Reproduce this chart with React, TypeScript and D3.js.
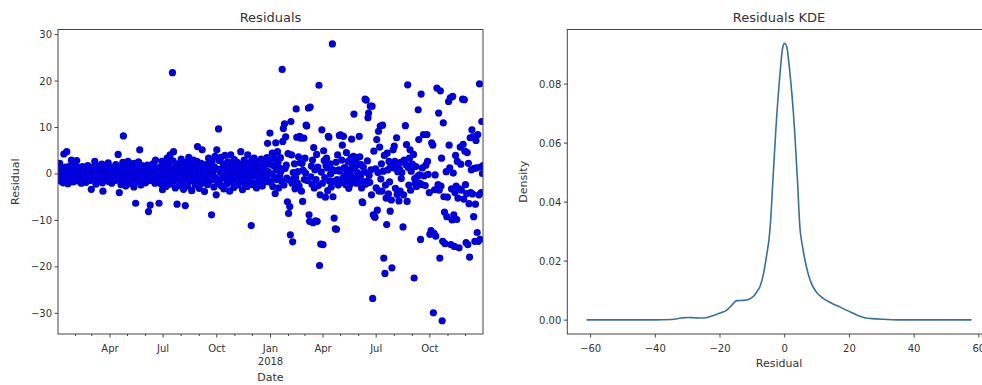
import React from "react";
import * as d3 from "d3";

// [day offset from 2017-01-01, residual]
const residualPoints: [number, number][] = [
  [1,1.2],[1,-0.5],[2,0.8],[3,-1.3],[4,2.3],[5,0.2],[6,-1.6],[7,1.1],[8,-0.3],[9,0.6],[10,-1.9],[11,4.3],[12,0.4],[13,-0.9],[14,1.5],[15,-1.4],[16,4.8],[17,0.3],[18,-2.1],[19,0.9],[20,-0.6],[21,1.7],[22,-1.2],[23,0.1],[24,3.0],[25,-0.8],[26,1.3],[27,-1.7],[28,0.5],[29,-0.2],[30,1.9],[31,-1.1],[33,2.9],[34,0.7],[35,-1.5],[36,0.2],[37,1.4],[38,-0.7],[40,0.9],[41,-2.0],[42,0.3],[43,1.6],[44,-1.0],[46,0.6],[47,-0.4],[48,1.1],[49,-1.8],[51,0.4],[52,1.8],[53,-0.9],[55,0.1],[56,-1.4],[57,1.2],[58,-3.3],[59,0.5],[60,-0.6],[62,1.5],[63,-1.2],[64,2.7],[65,0.3],[66,-2.2],[68,0.8],[69,-0.5],[70,1.7],[71,-1.5],[73,0.2],[74,1.3],[75,-0.8],[76,2.1],[77,-1.9],[78,-3.7],[79,0.6],[80,-0.2],[82,1.0],[83,-1.3],[84,0.4],[85,1.9],[86,-0.7],[87,2.4],[88,-1.6],[89,0.9],[90,-0.1],[92,1.4],[93,-2.0],[94,0.6],[95,-0.9],[97,1.2],[98,0.1],[99,-1.4],[100,2.0],[101,-0.4],[102,0.8],[104,4.2],[105,-1.1],[106,-4.0],[107,0.5],[108,1.6],[109,-2.3],[110,0.9],
  [111,-0.6],[112,2.5],[113,8.2],[114,-1.8],[115,1.2],[116,0.3],[117,-2.6],[118,1.9],[119,-0.8],[120,0.6],[121,2.7],[122,-1.4],[123,0.2],[124,1.5],[125,-2.1],[126,0.9],[127,-0.3],[128,2.2],[129,-1.2],[130,0.7],[131,-2.8],[132,2.3],[133,1.0],[134,-6.3],[135,-0.5],[136,1.7],[137,-1.6],[138,0.4],[139,2.6],[140,-0.9],[141,5.2],[142,1.3],[143,-2.4],[144,0.1],[145,1.8],[146,-1.0],[148,1.6],[149,-0.4],[150,0.8],[151,-1.9],[152,1.1],[154,1.9],[155,-0.6],[156,-8.1],[157,0.4],[158,-1.4],[159,-6.7],[160,1.0],[161,-0.2],[162,2.0],[163,-1.1],[165,2.3],[166,0.5],[167,-2.0],[168,3.0],[169,-0.7],[170,1.2],[171,-1.6],[172,0.3],[174,-6.3],[175,1.4],[176,-0.9],[177,0.6],[178,-2.2],[179,2.7],[180,-3.4],
  [181,1.0],[182,-0.4],[183,2.1],[184,-1.8],[185,0.7],[186,-2.7],[187,1.6],[188,3.4],[189,-0.2],[190,-1.3],[191,2.4],[192,0.3],[193,4.1],[194,-2.2],[195,1.2],[196,-0.8],[197,21.8],[198,2.8],[199,4.8],[200,-1.5],[201,0.5],[202,-3.0],[203,1.7],[204,-0.3],[205,-6.5],[206,2.2],[207,-1.0],[208,0.9],[209,-2.5],[210,1.5],[211,-0.6],[212,3.2],[213,-1.9],[214,0.2],[215,1.9],[216,-3.3],[217,0.6],[218,-1.2],[219,-6.8],[220,2.5],[221,-0.2],[222,1.6],[223,-2.6],[224,0.4],[225,3.6],[226,-1.4],[227,1.1],[228,2.3],[229,-0.7],[230,-3.6],[231,0.8],[232,1.9],[233,3.0],[234,-1.6],[235,0.3],[236,-2.4],[237,1.3],[238,-0.4],[239,2.7],[240,5.9],[241,-1.1],[242,0.7],[243,-3.1],[244,1.8],[245,-0.5],[246,2.3],[247,-2.0],[248,5.2],[249,0.1],[250,-1.3],[251,1.4],[252,-3.8],[253,0.9],[254,2.0],[255,-0.9],[256,1.1],[257,-2.3],[258,0.4],[259,3.4],[260,-1.5],[261,1.8],[262,-0.2],[263,2.4],[264,-8.8],[265,2.7],[266,-1.2],[267,0.6],[268,-2.8],[269,1.5],[270,3.8],
  [271,-0.8],[272,-4.5],[273,5.2],[274,1.0],[275,-2.0],[276,9.7],[277,2.9],[278,-1.4],[279,0.5],[280,3.6],[281,-2.6],[282,1.2],[283,-0.3],[284,2.2],[285,-3.2],[286,0.7],[287,4.0],[288,-1.0],[289,1.9],[290,-2.2],[291,0.3],[292,2.6],[293,-0.6],[294,1.4],[295,-3.7],[296,0.9],[297,4.1],[298,-1.6],[299,2.0],[300,-0.4],[301,1.1],[302,-2.9],[303,3.1],[304,0.2],[305,-1.3],[306,1.6],[307,-0.9],[308,2.5],[309,-2.4],[310,0.6],[312,-1.8],[313,1.3],[314,4.8],[315,-0.5],[316,2.1],[317,-3.4],[318,0.8],[319,-1.1],[320,3.0],[321,-2.1],[322,0.4],[323,1.8],[324,-0.2],[325,-2.7],[326,4.1],[327,1.0],[328,-1.5],[329,2.4],[330,-0.8],[331,0.6],[332,-11.1],[333,2.9],[334,-2.3],[335,1.5],[336,-0.4],[337,3.4],[338,-1.9],[339,0.3],[340,2.0],[341,-3.0],[342,1.2],[343,2.6],[344,-0.7],[345,0.9],[346,-2.0],[347,1.7],[348,-1.2],[349,3.2],[350,0.1],[351,-2.6],[352,1.4],[353,-0.3],[354,1.2],[355,-1.6],[356,2.2],[357,0.5],[358,-0.9],[359,3.5],[360,6.6],[361,0.5],[362,-1.7],[363,2.1],[364,8.8],
  [365,3.0],[366,-1.7],[367,0.0],[368,4.5],[369,-2.7],[370,1.8],[371,-0.6],[372,3.4],[373,-4.2],[374,6.7],[375,0.9],[376,-1.2],[377,4.8],[378,2.6],[379,-3.0],[380,1.3],[381,-0.4],[382,3.5],[383,0.6],[384,-1.5],[385,22.5],[386,7.0],[387,9.8],[388,-2.4],[389,10.8],[390,1.2],[391,8.0],[392,1.9],[393,-0.9],[394,-6.0],[395,4.4],[396,-8.5],[397,-1.3],[398,-7.0],[399,-13.1],[400,11.3],[401,4.1],[402,-2.0],[403,-14.6],[404,0.3],[405,-1.0],[406,2.2],[407,-3.2],[408,-0.8],[409,14.0],[410,7.9],[411,-1.9],[412,0.5],[413,3.7],[414,-2.6],[415,8.1],[416,2.4],[417,7.7],[418,-3.7],[419,2.3],[420,-5.9],[421,0.8],[422,7.7],[423,-1.2],[424,3.4],[425,0.2],[426,10.5],[427,10.3],[428,-1.4],[430,14.2],[431,-8.8],[432,-10.2],[433,14.4],[434,-0.6],[435,1.7],[436,-2.2],[437,3.0],[438,-10.5],[439,5.7],[440,-3.0],[441,0.9],[442,-10.1],[443,-1.2],[444,4.2],[445,-10.2],[446,1.5],[447,-2.5],[448,19.1],[449,-19.7],[450,-4.5],[451,-15.1],[452,0.4],[453,9.5],[454,-2.0],[455,-15.2],[456,5.0],[457,2.9],[458,-0.8],[459,-5.0],[460,1.8],[461,3.4],[462,1.3],[463,-3.6],[464,8.1],[465,7.9],[466,-1.5],[467,2.2],[468,0.0],[469,-2.8],[470,1.0],[471,28.0],[472,-4.9],[473,-1.6],[474,-9.5],[475,0.7],[476,-11.8],[477,2.5],[478,-11.9],[479,-1.2],[480,4.1],[481,-2.4],[482,0.9],[483,8.3],[484,0.6],[485,8.4],[486,-1.8],[487,3.0],[488,6.2],[489,-0.9],[490,8.1],[491,1.3],[492,-0.5],[493,1.3],[494,-2.3],[495,4.6],[496,0.2],[497,-1.0],[498,2.7],[499,-3.1],[500,0.8],[501,-2.3],[502,-0.2],[503,3.5],[504,7.5],[505,2.0],[506,-1.4],[507,3.8],[508,12.9],[509,1.1],[510,-0.9],[511,2.4],[512,-2.0],[513,3.5],[514,0.3],[515,2.0],[516,-1.6],[517,8.1],[518,3.7],[519,-0.5],[520,2.0],[521,-3.0],[522,-6.0],[523,-6.2],[524,1.5],[525,-1.7],[526,0.4],[527,16.1],[528,-2.2],[529,15.9],[530,-1.6],[531,2.8],[532,12.1],[533,13.1],[534,-0.3],[535,-1.8],[536,14.6],[537,0.9],[538,-4.5],[539,14.6],[540,-26.8],[541,-8.8],[542,4.9],[543,-9.2],[544,-9.3],[545,1.1],[546,-3.0],[547,7.4],[548,-7.8],[549,0.3],[550,9.2],[551,-3.7],[552,5.8],[553,10.3],[554,-1.1],[555,2.2],[556,-3.7],[557,10.5],[558,0.6],[559,-18.1],[560,4.0],[561,-21.4],[562,-2.4],[563,-5.2],[564,-10.9],[565,4.5],[566,0.9],[567,-4.3],[568,2.7],[569,-1.7],[570,-8.0],[571,1.6],[572,-5.6],[573,-20.2],[574,2.0],[575,5.2],
  [576,1.3],[577,6.0],[578,2.7],[579,-3.1],[580,1.9],[581,7.8],[582,-4.4],[583,0.5],[584,2.2],[585,-5.8],[586,1.0],[587,-3.7],[588,2.5],[589,-1.0],[590,0.3],[592,-11.4],[593,-4.5],[594,3.0],[596,10.4],[597,2.0],[598,6.3],[599,-5.9],[600,19.2],[601,1.4],[602,-2.4],[603,3.4],[604,5.2],[605,-3.5],[606,0.6],[608,2.1],[610,4.2],[611,-22.4],[612,-1.0],[613,-2.0],[614,1.6],[615,-2.7],[617,-0.5],[618,13.8],[619,7.4],[620,-0.2],[621,-2.0],[622,-14.1],[623,17.2],[624,-2.3],[625,1.3],[627,8.5],[628,-0.4],[630,-2.5],[631,1.9],[633,8.5],[634,2.7],[635,-0.1],[637,-4.0],[638,-13.0],[640,-12.2],[641,6.7],[643,6.2],[644,-29.9],[645,-12.8],[646,-3.4],[647,-0.2],[648,-13.4],[650,18.5],[652,-2.3],[653,13.1],[654,-3.5],[655,-18.1],[656,17.9],[657,-2.6],[658,3.4],[659,-31.6],[660,-14.5],[661,11.0],[662,-4.9],[663,-8.2],[664,-15.0],[666,0.5],[667,-9.2],[668,-5.0],[670,15.6],[671,6.2],[672,1.3],[673,16.4],[674,-15.2],[675,-3.2],[676,-9.9],[677,16.7],[678,0.2],[679,-8.8],[680,-15.6],[681,-4.0],[682,4.0],[683,-2.6],[684,-9.8],[685,2.7],[686,-5.2],[688,-15.9],[689,-3.2],[690,5.8],[691,2.1],[692,-3.5],[694,16.1],[695,6.4],[696,-5.4],[697,16.0],[698,4.9],[699,-2.3],[700,-14.8],[701,-4.2],[702,4.6],[703,-15.2],[704,2.3],[705,-6.4],[706,-17.9],[707,7.8],[708,-4.0],[709,0.9],[710,9.5],[711,-4.3],[712,8.0],[713,-9.2],[714,1.2],[715,-14.5],[716,-6.5],[717,7.2],[718,1.3],[719,-12.6],[720,8.5],[721,-14.5],[722,-4.5],[723,19.4],[724,-14.1],[725,1.5],[726,-4.0],[727,11.3],[728,0.1],[729,1.8]
];

const kdeX = [-61.25,-50,-40,-35,-32,-30,-28,-26,-24,-22,-20,-18,-16.4,-14.8,-12.8,-11,-9.7,-8.5,-7.6,-6.5,-5.8,-4.5,-3.6,-2.7,-1.5,-0.6,0,0.6,1.5,3.0,3.9,4.7,5.5,6.3,7.3,8.3,9.8,11.4,13,15,17,19.2,21,23.3,25,27,30,35,45,57.75];
const kdeDensity = [0.0001,0.0001,0.0001,0.0002,0.0007,0.0009,0.0008,0.0007,0.0009,0.0016,0.0024,0.0033,0.0050,0.0066,0.0067,0.0071,0.0080,0.0098,0.0115,0.0160,0.0205,0.0314,0.0483,0.0652,0.0830,0.0925,0.0938,0.0928,0.0850,0.0652,0.0483,0.0314,0.0250,0.0202,0.0155,0.0123,0.0095,0.0078,0.0066,0.0055,0.0045,0.0033,0.0024,0.0013,0.0007,0.0005,0.0003,0.0001,0.0001,0.0001];

const residualTicks = [30, 20, 10, 0, -10, -20, -30];
const kdeXTicks = [-60, -40, -20, 0, 20, 40, 60];
const kdeYTicks = [0, 0.02, 0.04, 0.06, 0.08];

const FONT = "DejaVu Sans, sans-serif";
const TXT = "#333";
const AX = "#444";

export default function App() {
  const W = 982, H = 385;
  const L = { x0: 58, x1: 483, y0: 29.5, y1: 334 };
  const R = { x0: 567.3, x1: 990.8, y0: 29.5, y1: 334 };

  const base = new Date(2017, 0, 1);
  const toDate = (d: number) => d3.timeDay.offset(base, d);
  const start = toDate(1), end = toDate(729);

  const xL = d3.scaleTime().domain([start, end]).range([L.x0, L.x1]);
  const yL = d3.scaleLinear().domain([-34.45, 31.1]).range([L.y1, L.y0]);
  const xR = d3.scaleLinear().domain([-67.2, 63.7]).range([R.x0, R.x1]);
  const yR = d3.scaleLinear().domain([-0.0047, 0.0985]).range([R.y1, R.y0]);

  const kdeData: [number, number][] = kdeX.map((x, i) => [x, kdeDensity[i]]);
  const kdeLine = d3.line<[number, number]>().x(d => xR(d[0])).y(d => yR(d[1])).curve(d3.curveMonotoneX);

  const months = d3.timeMonths(start, end);
  const major = months.filter(m => m.getMonth() % 3 === 0);
  const minor = months.filter(m => m.getMonth() % 3 !== 0);
  const fmtMonth = d3.timeFormat("%b");
  const fmtNum = d3.format(".2f");

  return (
    <svg width={W} height={H} style={{ position: "absolute", left: 0, top: 0, background: "#fff" }} fontFamily={FONT}>
      <defs>
        <clipPath id="clipL"><rect x={L.x0} y={L.y0} width={L.x1 - L.x0} height={L.y1 - L.y0} /></clipPath>
        <clipPath id="clipR"><rect x={R.x0} y={R.y0} width={R.x1 - R.x0} height={R.y1 - R.y0} /></clipPath>
      </defs>

      {/* Left panel */}
      <text x={(L.x0 + L.x1) / 2} y={22} textAnchor="middle" fontSize={13} fill={TXT}>Residuals</text>
      <g clipPath="url(#clipL)">
        {residualPoints.map(([d, v], i) => (
          <circle key={i} cx={xL(toDate(d))} cy={yL(v)} r={3.6} fill="#0000dd" />
        ))}
      </g>
      <rect x={L.x0} y={L.y0} width={L.x1 - L.x0} height={L.y1 - L.y0} fill="none" stroke={AX} strokeWidth={1} />
      {residualTicks.map(t => (
        <g key={t}>
          <line x1={L.x0 - 3.5} x2={L.x0} y1={yL(t)} y2={yL(t)} stroke={AX} />
          <text x={L.x0 - 6} y={yL(t)} dy="0.35em" textAnchor="end" fontSize={10} fill={TXT}>{d3.format("d")(t)}</text>
        </g>
      ))}
      {minor.map((m, i) => (
        <line key={"mn" + i} x1={xL(m)} x2={xL(m)} y1={L.y1} y2={L.y1 + 2} stroke={AX} />
      ))}
      {major.map((m, i) => (
        <g key={"mj" + i}>
          <line x1={xL(m)} x2={xL(m)} y1={L.y1} y2={L.y1 + 3.5} stroke={AX} />
          <text x={xL(m)} y={348} dy="0.35em" textAnchor="middle" fontSize={10} fill={TXT}>{fmtMonth(m)}</text>
          {m.getMonth() === 0 && (
            <text x={xL(m)} y={361} dy="0.35em" textAnchor="middle" fontSize={10} fill={TXT}>{m.getFullYear()}</text>
          )}
        </g>
      ))}
      <text x={(L.x0 + L.x1) / 2} y={377} dy="0.35em" textAnchor="middle" fontSize={11} fill={TXT}>Date</text>
      <text transform={`translate(15,${(L.y0 + L.y1) / 2}) rotate(-90)`} dy="0.35em" textAnchor="middle" fontSize={11} fill={TXT}>Residual</text>

      {/* Right panel */}
      <text x={(R.x0 + R.x1) / 2} y={22} textAnchor="middle" fontSize={13} fill={TXT}>Residuals KDE</text>
      <g clipPath="url(#clipR)">
        <path d={kdeLine(kdeData) || ""} fill="none" stroke="#3a6f99" strokeWidth={1.6} />
      </g>
      <rect x={R.x0} y={R.y0} width={R.x1 - R.x0} height={R.y1 - R.y0} fill="none" stroke={AX} strokeWidth={1} />
      {kdeYTicks.map(t => (
        <g key={t}>
          <line x1={R.x0 - 3.5} x2={R.x0} y1={yR(t)} y2={yR(t)} stroke={AX} />
          <text x={R.x0 - 6} y={yR(t)} dy="0.35em" textAnchor="end" fontSize={10} fill={TXT}>{fmtNum(t)}</text>
        </g>
      ))}
      {kdeXTicks.map(t => (
        <g key={t}>
          <line x1={xR(t)} x2={xR(t)} y1={R.y1} y2={R.y1 + 3.5} stroke={AX} />
          <text x={xR(t)} y={348} dy="0.35em" textAnchor="middle" fontSize={10} fill={TXT}>{d3.format("d")(t)}</text>
        </g>
      ))}
      <text x={(R.x0 + R.x1) / 2} y={363} dy="0.35em" textAnchor="middle" fontSize={11} fill={TXT}>Residual</text>
      <text transform={`translate(523,${(R.y0 + R.y1) / 2}) rotate(-90)`} dy="0.35em" textAnchor="middle" fontSize={11} fill={TXT}>Density</text>
    </svg>
  );
}
